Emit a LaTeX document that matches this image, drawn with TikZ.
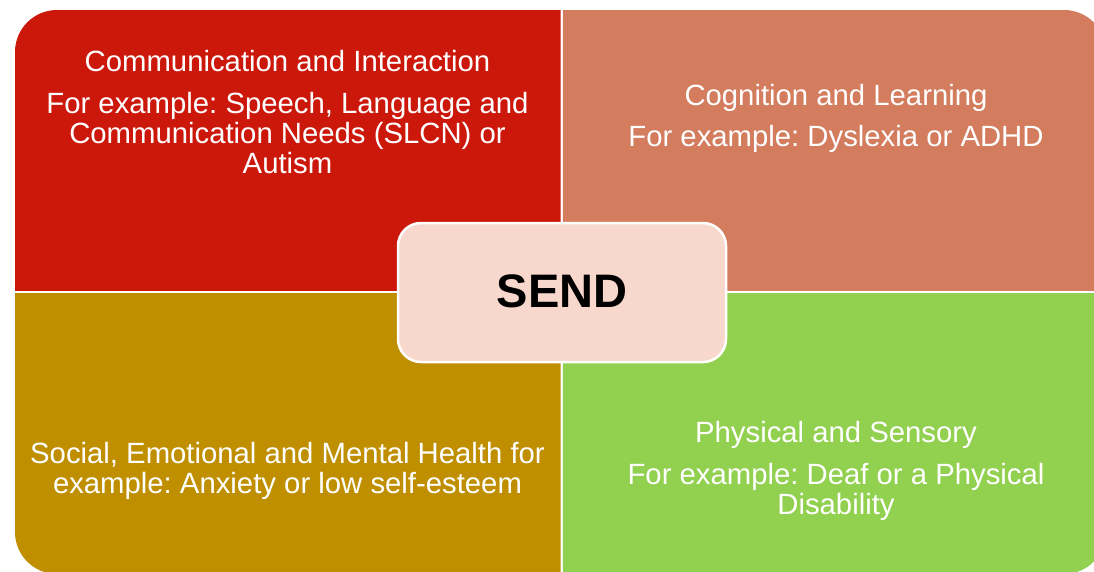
\documentclass[tikz,border=0pt]{standalone}
\usepackage{fontspec}
\setmainfont{Liberation Sans}
\frenchspacing
\definecolor{qred}{RGB}{204,24,11}
\definecolor{qsalmon}{RGB}{211,124,94}
\definecolor{qgold}{RGB}{191,143,0}
\definecolor{qgreen}{RGB}{146,208,80}
\definecolor{qcentre}{RGB}{248,216,205}
\begin{document}
\begin{tikzpicture}[x=1pt,y=-1pt,
  qtext/.style={text=white, align=center, font=\fontsize{29.3}{30}\selectfont\frenchspacing, inner sep=0pt, anchor=base},
  quad/.style={rounded corners=42pt},
  centrebox/.style={draw=white, line width=2.5pt, fill=qcentre, rounded corners=23pt,
    minimum width=328pt, minimum height=139pt, text height=29pt, text depth=0pt,
    font=\fontsize{47}{50}\selectfont\bfseries}]
\useasboundingbox (0,0) rectangle (1094,571);
\fill[white] (0,0) rectangle (1094,571);
% quadrants
\begin{scope}
  \clip (0,0) rectangle (560.5,290.3);
  \fill[qred, quad] (15,10) rectangle (1106,574);
\end{scope}
\begin{scope}
  \clip (562.8,0) rectangle (1200,290.3);
  \fill[qsalmon, quad] (15,10) rectangle (1106,574);
\end{scope}
\begin{scope}
  \clip (0,293) rectangle (560.5,700);
  \fill[qgold, quad] (15,10) rectangle (1106,574);
\end{scope}
\begin{scope}
  \clip (562.8,293) rectangle (1200,700);
  \fill[qgreen, quad] (15,10) rectangle (1106,574);
\end{scope}
% texts (anchor base = baseline of the last line)
\node[qtext] (ci) at (287.5,173) {Communication and Interaction\\[12pt]
  For example: Speech, Language and\\ Communication Needs (SLCN) or\\ Autism};
\node[qtext] (cl) at (836,146) {Cognition and Learning\\[11pt]
  For example: Dyslexia or ADHD};
\node[qtext] (semh) at (287.5,493) {Social, Emotional and Mental Health for\\
  example: Anxiety or low self-esteem};
\node[qtext] (ps) at (836,514) {Physical and Sensory\\[12pt]
  For example: Deaf or a Physical\\ Disability};
% centre
\node[centrebox] (send) at (562,292.5) {SEND};
\end{tikzpicture}
\end{document}
